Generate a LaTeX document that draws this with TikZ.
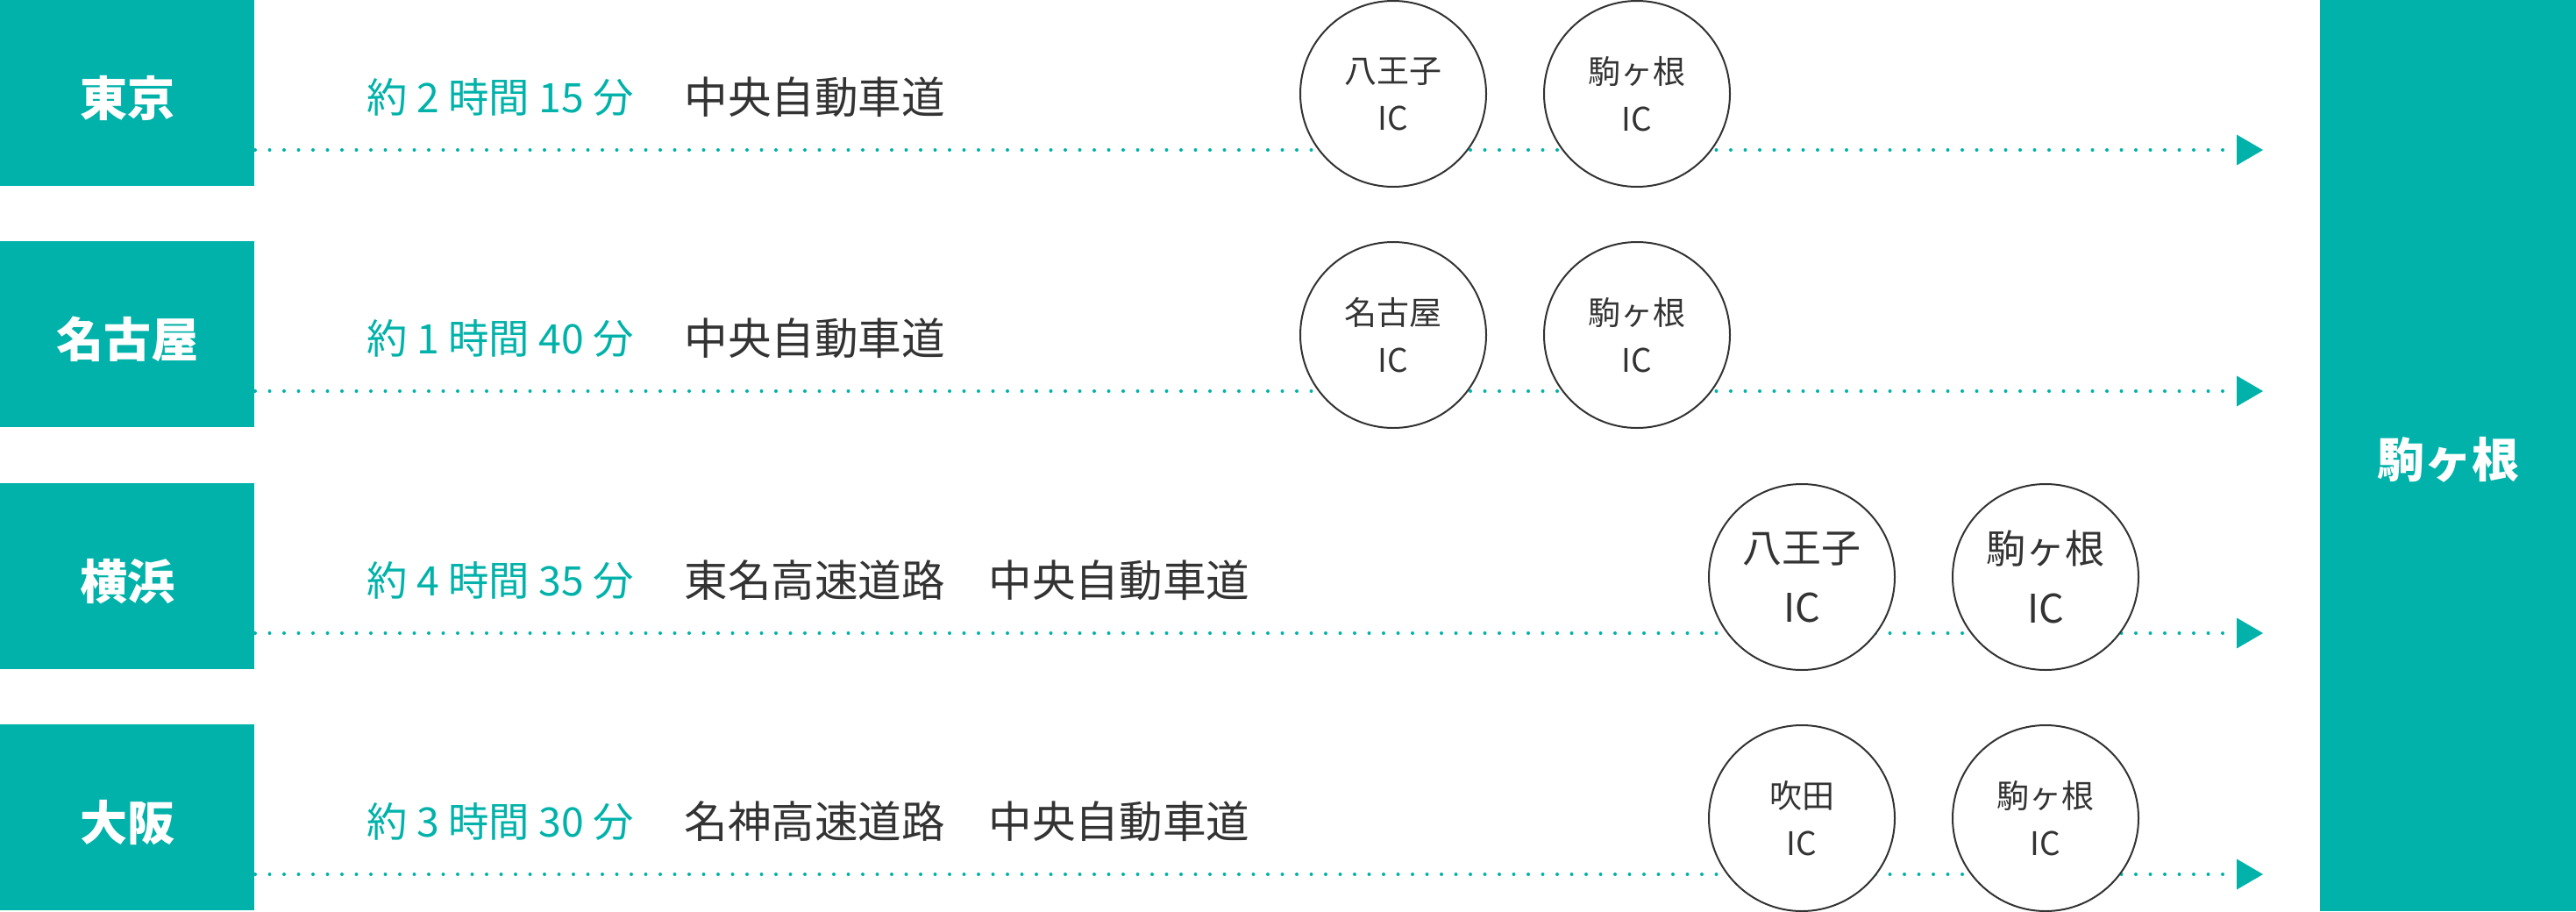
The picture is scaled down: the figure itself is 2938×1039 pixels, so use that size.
\documentclass[tikz,border=0pt]{standalone}
\usepackage{fontspec}
\setmainfont{Noto Sans CJK JP}
\usetikzlibrary{positioning}
\definecolor{kgreen}{HTML}{00B2A9}
\definecolor{kgray}{HTML}{333333}
\begin{document}
\begin{tikzpicture}[x=.5pt,y=-.5pt,
  city/.style={fill=kgreen,text=white,anchor=north west,inner sep=0pt,
    minimum width=145pt,minimum height=106pt,text height=29pt,text depth=3.2pt,
    font=\fontsize{27pt}{32pt}\selectfont\bfseries},
  goal/.style={fill=kgreen,text=white,inner sep=0pt,
    minimum width=146pt,minimum height=519.5pt,text height=28pt,text depth=3.2pt,
    font=\fontsize{27pt}{32pt}\selectfont\bfseries},
  dur/.style={anchor=west,inner sep=0pt,text=kgreen,font=\fontsize{23.2pt}{28pt}\selectfont},
  road/.style={anchor=west,inner sep=0pt,text=kgray,font=\fontsize{24.8pt}{28pt}\selectfont},
  ic/.style={circle,draw=kgray,line width=1pt,fill=white,text=kgray,
    minimum size=106pt,inner sep=0pt,align=center,
    font=\fontsize{18.5pt}{27pt}\selectfont},
  icbig/.style={ic,font=\fontsize{22.5pt}{34pt}\selectfont},
  dotline/.style={kgreen,line width=2pt,line cap=round,dash pattern=on 0pt off 8.25pt},
  tip/.style={fill=kgreen}]
  \useasboundingbox (0,0) rectangle (2938,1039);
  % start and end of the dotted lines
  \coordinate (s1) at (291,171);  \coordinate (e1) at (2551,171);
  \coordinate (s2) at (291,446);  \coordinate (e2) at (2551,446);
  \coordinate (s3) at (291,722);  \coordinate (e3) at (2551,722);
  \coordinate (s4) at (291,997);  \coordinate (e4) at (2551,997);
  \draw[dotline] (s1)--(e1);
  \draw[dotline] (s2)--(e2);
  \draw[dotline] (s3)--(e3);
  \draw[dotline] (s4)--(e4);
  \fill[tip] (e1) ++(0,-17.5) -- ++(30,17.5) -- ++(-30,17.5) -- cycle;
  \fill[tip] (e2) ++(0,-17.5) -- ++(30,17.5) -- ++(-30,17.5) -- cycle;
  \fill[tip] (e3) ++(0,-17.5) -- ++(30,17.5) -- ++(-30,17.5) -- cycle;
  \fill[tip] (e4) ++(0,-17.5) -- ++(30,17.5) -- ++(-30,17.5) -- cycle;
  % cities
  \node[city] (tokyo) at (0,0) {東京};
  \node[city] (nagoya) at (0,275) {名古屋};
  \node[city] (yokohama) at (0,551) {横浜};
  \node[city] (osaka) at (0,826) {大阪};
  \node[goal] (komagane) at (2792,519.5) {駒ヶ根};
  % times and roads
  \node[dur] (t1) at (418,111) {約 2 時間 15 分};
  \node[dur] (t2) at (418,386) {約 1 時間 40 分};
  \node[dur] (t3) at (418,662) {約 4 時間 35 分};
  \node[dur] (t4) at (418,937) {約 3 時間 30 分};
  \node[road] (r1) at (780,111) {中央自動車道};
  \node[road] (r2) at (780,386) {中央自動車道};
  \node[road] (r3) at (780,662) {東名高速道路　中央自動車道};
  \node[road] (r4) at (780,937) {名神高速道路　中央自動車道};
  % interchanges
  \node[ic] (hachioji1) at (1589,107) {八王子\\IC};
  \node[ic,right=32pt of hachioji1] (ic1) {駒ヶ根\\IC};
  \node[ic] (nagoyaic) at (1589,382) {名古屋\\IC};
  \node[ic,right=32pt of nagoyaic] (ic2) {駒ヶ根\\IC};
  \node[icbig] (hachioji3) at (2055,658) {八王子\\IC};
  \node[icbig,right=32pt of hachioji3] (ic3) {駒ヶ根\\IC};
  \node[ic] (suita) at (2055,933) {吹田\\IC};
  \node[ic,right=32pt of suita] (ic4) {駒ヶ根\\IC};
\end{tikzpicture}
\end{document}
